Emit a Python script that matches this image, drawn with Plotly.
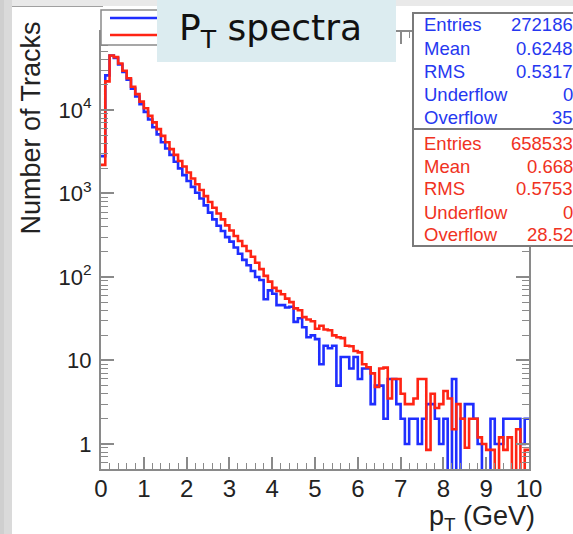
import plotly.graph_objects as go

# ---------------- data ----------------
BIN_WIDTH = 0.1
N_BINS = 100
bin_edges = [round(i * BIN_WIDTH, 1) for i in range(N_BINS + 1)]

red_counts = [2200, 22000, 45000, 43000, 36000, 29500, 24000, 19000, 15500, 12600,
              10500, 8500, 7100, 5900, 4900, 4100, 3400, 2900, 2450, 2100,
              1780, 1510, 1290, 1100, 930, 790, 675, 575, 490, 415,
              360, 310, 270, 235, 205, 175, 148, 124, 103, 88,
              74, 68, 62, 55, 50, 42, 40, 33, 31, 29.5,
              24, 26, 23.5, 23, 20, 19, 18.5, 15, 14.8, 13,
              12.5, 9, 8.3, 7, 4.8, 8, 8.2, 3.5, 6, 6,
              4, 3, 3, 3.5, 6, 6, 0.85, 4, 2.7, 3,
              4.3, 3.5, 1.5, 3, 2, 0.9, 2, 2, 1.2, 1,
              0.85, 0.85, 0, 1.2, 0.85, 1.2, 0, 1.5, 0, 0.85]

blue_counts = [2800, 26000, 45000, 42000, 35000, 28500, 23000, 18000, 14500, 11700,
               9500, 7700, 6200, 5100, 4100, 3450, 2900, 2400, 2000, 1660,
               1410, 1200, 1020, 870, 720, 590, 490, 410, 355, 300,
               265, 225, 190, 160, 138, 118, 100, 92, 54, 69,
               63, 46, 46, 43, 44, 29, 32, 25, 19, 20,
               18, 9, 15, 14, 15, 5, 11, 11, 8, 11,
               6, 8, 8, 3, 5, 5, 2, 6, 6, 3,
               2, 1, 2, 2, 1, 2, 3, 3, 2, 1,
               2, 0, 6, 0, 2, 3, 3, 2, 1, 0,
               0, 2, 1, 1, 2, 2, 2, 2, 1, 2]

y_tick_vals = [1, 10, 100, 1000, 10000]
y_tick_text = ["1", "10", "10<sup>2</sup>", "10<sup>3</sup>", "10<sup>4</sup>"]
x_tick_vals = list(range(0, 11))

stats_labels = ["Entries", "Mean", "RMS", "Underflow", "Overflow"]
blue_stats = ["272186", "0.6248", "0.5317", "0", "35"]
red_stats = ["658533", "0.668", "0.5753", "0", "28.52"]

# ---------------- geometry helpers ----------------
W, H = 573, 534
L, R, T, B = 101, 529, 32, 469


def px(x):
    return (x - L) / (R - L)


def py(y):
    return (B - y) / (B - T)


def step_y(counts):
    vals = [c if c > 0 else 0.01 for c in counts]  # empty bins drop to frame bottom
    return vals + [vals[-1]]


BLUE = "#1f2eff"
RED = "#ff2414"
AXC = "#8a8a8a"

fig = go.Figure()
fig.add_trace(go.Scatter(x=bin_edges, y=step_y(blue_counts), mode="lines",
                         line=dict(color=BLUE, width=2.6, shape="hv"),
                         showlegend=False, hoverinfo="skip"))
fig.add_trace(go.Scatter(x=bin_edges, y=step_y(red_counts), mode="lines",
                         line=dict(color=RED, width=2.6, shape="hv"),
                         showlegend=False, hoverinfo="skip"))

font_main = "Liberation Sans, Arial, sans-serif"

fig.update_xaxes(range=[0, 10], tickmode="array", tickvals=x_tick_vals,
                 ticks="inside", ticklen=12, tickwidth=1.6, tickcolor=AXC,
                 showline=True, linecolor=AXC, linewidth=2, mirror="allticks",
                 showgrid=False, zeroline=False,
                 tickfont=dict(family=font_main, size=24, color="#222"),
                 ticklabelstandoff=-3,
                 minor=dict(dtick=0.2, ticks="inside", ticklen=6, tickwidth=1.4,
                            tickcolor=AXC, showgrid=False))

minor_vals = [m * 10 ** e for e in range(-1, 5) for m in range(2, 10)]
fig.update_yaxes(type="log", range=[-0.3, 4.934], tickmode="array",
                 tickvals=y_tick_vals, ticktext=y_tick_text,
                 ticks="inside", ticklen=13, tickwidth=1.6, tickcolor=AXC,
                 showline=True, linecolor=AXC, linewidth=2, mirror="allticks",
                 showgrid=False, zeroline=False,
                 tickfont=dict(family=font_main, size=22, color="#222"),
                 ticklabelstandoff=3,
                 minor=dict(tickmode="array", tickvals=minor_vals, ticks="inside",
                            ticklen=7, tickwidth=1.4, tickcolor=AXC, showgrid=False))

shapes = []
# slide decorations
shapes.append(dict(type="rect", xref="paper", yref="paper", x0=px(0), x1=px(12),
                   y0=py(H + 10), y1=py(-5), fillcolor="#dadada", line=dict(width=0), layer="below"))
shapes.append(dict(type="rect", xref="paper", yref="paper", x0=px(0), x1=px(4),
                   y0=py(H + 10), y1=py(-5), fillcolor="#cfcfcf", line=dict(width=0), layer="below"))
shapes.append(dict(type="rect", xref="paper", yref="paper", x0=px(12), x1=px(W + 10),
                   y0=py(6), y1=py(-5), fillcolor="#e9e9e9", line=dict(width=0), layer="below"))
shapes.append(dict(type="line", xref="paper", yref="paper", x0=px(12), x1=px(103),
                   y0=py(6.5), y1=py(6.5), line=dict(color="#a0a0a0", width=1.2), layer="below"))
# legend box
shapes.append(dict(type="rect", xref="paper", yref="paper", x0=px(101), x1=px(175),
                   y0=py(45), y1=py(10), fillcolor="white", line=dict(color=AXC, width=1.5), layer="above"))
shapes.append(dict(type="line", xref="paper", yref="paper", x0=px(110), x1=px(160),
                   y0=py(18), y1=py(18), line=dict(color=BLUE, width=2.6), layer="above"))
shapes.append(dict(type="line", xref="paper", yref="paper", x0=px(110), x1=px(160),
                   y0=py(35), y1=py(35), line=dict(color=RED, width=2.6), layer="above"))
# stats box
shapes.append(dict(type="rect", xref="paper", yref="paper", x0=px(413), x1=px(W + 20),
                   y0=py(246), y1=py(13), fillcolor="white", line=dict(color="#7a7a7a", width=2), layer="above"))
shapes.append(dict(type="line", xref="paper", yref="paper", x0=px(413), x1=px(W + 20),
                   y0=py(129), y1=py(129), line=dict(color="#7a7a7a", width=2), layer="above"))
# title box
shapes.append(dict(type="rect", xref="paper", yref="paper", x0=px(157), x1=px(396),
                   y0=py(62), y1=py(-5), fillcolor="#dcecf0", line=dict(width=0), layer="above"))

annotations = []
annotations.append(dict(xref="paper", yref="paper", x=px(177), y=py(31), xanchor="left", yanchor="middle",
                        text="P<sub>T</sub> spectra", showarrow=False,
                        font=dict(family="DejaVu Sans, Verdana, sans-serif", size=36, color="#111")))
annotations.append(dict(xref="paper", yref="paper", x=px(30), y=py(20), xanchor="center", yanchor="top",
                        text="Number of Tracks", textangle=-90, showarrow=False,
                        font=dict(family=font_main, size=27, color="#222")))
annotations.append(dict(xref="paper", yref="paper", x=px(537), y=py(518), xanchor="right", yanchor="middle",
                        text="p<sub>T</sub> (GeV)", showarrow=False,
                        font=dict(family=font_main, size=27, color="#222")))

line_gap = 23
for i, lab in enumerate(stats_labels):
    for j, (vals, col) in enumerate(((blue_stats, "#2638f0"), (red_stats, "#f03222"))):
        yy = 25 + i * line_gap + j * 118
        annotations.append(dict(xref="paper", yref="paper", x=px(422), y=py(yy), xanchor="left",
                                yanchor="middle", text=lab, showarrow=False,
                                font=dict(family=font_main, size=18.5, color=col)))
        annotations.append(dict(xref="paper", yref="paper", x=px(575), y=py(yy), xanchor="right",
                                yanchor="middle", text=vals[i], showarrow=False,
                                font=dict(family=font_main, size=18.5, color=col)))

fig.update_layout(width=W, height=H, margin=dict(l=L, r=W - R, t=T, b=H - B, pad=0),
                  paper_bgcolor="white", plot_bgcolor="white",
                  shapes=shapes, annotations=annotations, showlegend=False)

fig.write_html("out.html")
